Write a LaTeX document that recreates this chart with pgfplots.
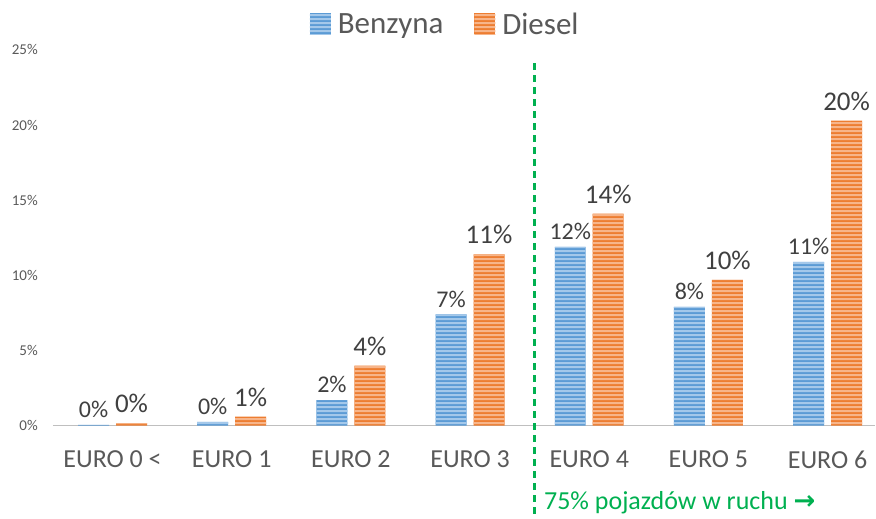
\documentclass[border=0pt]{standalone}
\usepackage{pgfplots}
\pgfplotsset{compat=1.18}
\usepackage{pgfplotstable}
\usepackage{fontspec}
\setmainfont{Carlito}
\newfontfamily\dejavu{DejaVu Sans}
\usetikzlibrary{patterns.meta}
\definecolor{cblue}{HTML}{5B9BD5}
\definecolor{cbluel}{HTML}{A4C8EA}
\definecolor{corange}{HTML}{ED7D31}
\definecolor{corangel}{HTML}{F7B58A}
\definecolor{cgreen}{HTML}{00B050}
\definecolor{ctext}{HTML}{595959}
\definecolor{cdark}{HTML}{404040}

\pgfplotstableread{
x b d
0 0.05 0.15
1 0.25 0.6
2 1.7 4.0
3 7.4 11.4
4 11.9 14.1
5 7.9 9.7
6 10.9 20.3
}\datatable

\begin{document}
\begin{tikzpicture}
\begin{axis}[
  scale only axis,
  width=823pt, height=376pt,
  xmin=-0.5, xmax=6.4,
  ymin=0, ymax=25,
  ybar=7pt, bar width=31pt,
  axis x line*=bottom,
  axis y line*=left,
  y axis line style={draw=none},
  x axis line style={draw=black!25, line width=1.5pt, -},
  clip=false,
  major tick length=0pt,
  xtick=data,
  xticklabels={EURO 0 <, EURO 1, EURO 2, EURO 3, EURO 4, EURO 5, EURO 6},
  xticklabel style={font=\fontsize{26}{26}\selectfont, text=ctext, inner sep=0pt, anchor=north, yshift=-25pt},
  ytick={0,5,10,15,20,25},
  yticklabel={\pgfmathprintnumber{\tick}\%},
  /pgf/number format/assume math mode=true,
  yticklabel style={font=\fontsize{15}{15}\selectfont, text=ctext, inner sep=0pt, anchor=east, xshift=-15pt},
  legend style={draw=none, at={(0.48,1)}, anchor=south, yshift=10pt,
    legend columns=2, font=\fontsize{31}{31}\selectfont, text=ctext,
    /tikz/every even column/.append style={column sep=24pt},
    /tikz/every node/.append style={inner xsep=7pt}},
  legend image code/.code={\fill[#1] (0pt,-10pt) rectangle (21pt,11pt);},
  nodes near coords={\pgfmathprintnumber[fixed,precision=0]{\pgfplotspointmeta}\%},
  nodes near coords style={text=cdark, inner sep=0pt, anchor=south, yshift=7pt},
]
\addplot[fill=cblue, draw=none,
  postaction={pattern={Lines[angle=0,distance=4pt,line width=2pt]}, pattern color=cbluel},
  nodes near coords style={font=\fontsize{24}{24}\selectfont}]
  table[x=x,y=b]{\datatable};
\addlegendentry{Benzyna}
\addplot[fill=corange, draw=none,
  postaction={pattern={Lines[angle=0,distance=4pt,line width=2pt]}, pattern color=corangel},
  nodes near coords style={font=\fontsize{27}{27}\selectfont, yshift=3pt}]
  table[x=x,y=d]{\datatable};
\addlegendentry{Diesel}
\addplot[sharp plot, forget plot, draw=cgreen, line width=3pt, dash pattern=on 7pt off 5pt, nodes near coords={}, mark=none]
  coordinates {(3.54,24.1) (3.54,-6.05)};
\node[anchor=base west, text=cgreen, font=\fontsize{26}{26}\selectfont, inner sep=0pt]
  at (axis cs:3.62,-5.6) {75\% pojazdów w ruchu {\dejavu\bfseries\fontsize{26}{26}\selectfont →}};
\end{axis}
\path (-53pt,-91pt) rectangle (823pt,426pt);
\end{tikzpicture}
\end{document}
